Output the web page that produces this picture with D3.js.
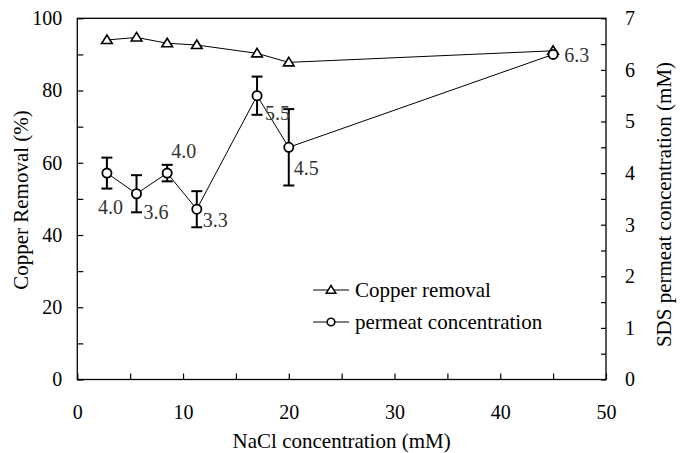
<!DOCTYPE html>
<html>
<head>
<meta charset="utf-8">
<script src="https://cdn.jsdelivr.net/npm/d3@7"></script>
<style>
  body { margin: 0; background: #fff; }
  svg { display: block; font-family: "Liberation Serif", "Times New Roman", serif; }
  .axis path { display: none; }
  .axis line { stroke: #000; stroke-width: 1.2px; }
  .axis text { font-size: 20px; fill: #000; font-family: "Liberation Serif", "Times New Roman", serif; }
</style>
</head>
<body>
<div id="chart-area"></div>
<script>
// NaCl concentration (mM)
var nacl = [2.8, 5.6, 8.5, 11.3, 17, 20, 45];
// copper removal (%)
var copperRemoval = [94.0, 94.7, 93.1, 92.6, 90.3, 87.8, 91.0];
// SDS permeate concentration (mM) and its error
var permeate = [4.0, 3.6, 4.0, 3.3, 5.5, 4.5, 6.3];
var permeateErr = [0.3, 0.36, 0.16, 0.35, 0.37, 0.74, 0];
var legendLabels = ["Copper removal", "permeat concentration"];

// label placement next to each permeate point (dx, dy)
var labelOffsets = [[-9, 41], [7, 25], [4, -15], [6, 18], [8, 24], [5, 28], [11, 8]];

var W = 687, H = 453;
var margin = { left: 77.3, right: 606, top: 18.3, bottom: 379.5 };

var svg = d3.select("#chart-area")
    .append("svg")
        .attr("width", W)
        .attr("height", H);

var x = d3.scaleLinear().domain([0, 50]).range([margin.left, margin.right]);
var yL = d3.scaleLinear().domain([0, 100]).range([margin.bottom, margin.top]);
var yR = d3.scaleLinear().domain([0, 7]).range([margin.bottom, margin.top]);

// Bottom axis
var xAxisCall = d3.axisBottom(x)
    .tickValues(d3.range(0, 51, 5))
    .tickSizeInner(-6)
    .tickSizeOuter(0)
    .tickPadding(25)
    .tickFormat(function(d){ return d % 10 === 0 ? d : ""; });
svg.append("g")
    .attr("class", "axis")
    .attr("transform", "translate(0," + margin.bottom + ")")
    .call(xAxisCall);

// Left axis
var yAxisCall = d3.axisLeft(yL)
    .tickValues(d3.range(0, 101, 10))
    .tickSizeInner(-6)
    .tickSizeOuter(0)
    .tickPadding(15)
    .tickFormat(function(d){ return d % 20 === 0 ? d : ""; });
svg.append("g")
    .attr("class", "axis")
    .attr("transform", "translate(" + margin.left + ",0)")
    .call(yAxisCall);

// Right axis
var yRAxisCall = d3.axisRight(yR)
    .tickValues(d3.range(0, 7.01, 0.5))
    .tickSizeInner(-5)
    .tickSizeOuter(0)
    .tickPadding(19)
    .tickFormat(function(d){ return d % 1 === 0 ? d : ""; });
svg.append("g")
    .attr("class", "axis")
    .attr("transform", "translate(" + margin.right + ",0)")
    .call(yRAxisCall);

// frame
svg.append("rect")
    .attr("x", margin.left)
    .attr("y", margin.top)
    .attr("width", margin.right - margin.left)
    .attr("height", margin.bottom - margin.top)
    .attr("fill", "none")
    .attr("stroke", "#000")
    .attr("stroke-width", 1.3);

// Axis titles
svg.append("text")
    .attr("x", (margin.left + margin.right) / 2)
    .attr("y", 448)
    .attr("font-size", "21px")
    .attr("text-anchor", "middle")
    .text("NaCl concentration (mM)");

svg.append("text")
    .attr("transform", "translate(28,200) rotate(-90)")
    .attr("font-size", "21px")
    .attr("text-anchor", "middle")
    .text("Copper Removal (%)");

svg.append("text")
    .attr("transform", "translate(671,204.5) rotate(-90)")
    .attr("font-size", "21px")
    .attr("text-anchor", "middle")
    .text("SDS permeat concentration (mM)");

var triangle = "M0,-5L5.3,3.5L-5.3,3.5Z";

var copperData = nacl.map(function(d, i){ return { x: d, y: copperRemoval[i] }; });
var permData = nacl.map(function(d, i){
    return { x: d, y: permeate[i], e: permeateErr[i], off: labelOffsets[i] };
});

// Copper removal line
svg.append("path")
    .datum(copperData)
    .attr("fill", "none")
    .attr("stroke", "#000")
    .attr("stroke-width", 1)
    .attr("d", d3.line()
        .x(function(d){ return x(d.x); })
        .y(function(d){ return yL(d.y); }));

// Permeate line
svg.append("path")
    .datum(permData)
    .attr("fill", "none")
    .attr("stroke", "#000")
    .attr("stroke-width", 1)
    .attr("d", d3.line()
        .x(function(d){ return x(d.x); })
        .y(function(d){ return yR(d.y); }));

// Error bars
var eb = svg.selectAll(".err")
    .data(permData.filter(function(d){ return d.e > 0; }))
    .enter().append("g")
        .attr("class", "err")
        .attr("stroke", "#000")
        .attr("stroke-width", 2);
eb.append("line")
    .attr("x1", function(d){ return x(d.x); })
    .attr("x2", function(d){ return x(d.x); })
    .attr("y1", function(d){ return yR(d.y - d.e); })
    .attr("y2", function(d){ return yR(d.y + d.e); });
eb.append("line")
    .attr("x1", function(d){ return x(d.x) - 5.5; })
    .attr("x2", function(d){ return x(d.x) + 5.5; })
    .attr("y1", function(d){ return yR(d.y - d.e); })
    .attr("y2", function(d){ return yR(d.y - d.e); });
eb.append("line")
    .attr("x1", function(d){ return x(d.x) - 5.5; })
    .attr("x2", function(d){ return x(d.x) + 5.5; })
    .attr("y1", function(d){ return yR(d.y + d.e); })
    .attr("y2", function(d){ return yR(d.y + d.e); });

// Triangle markers
svg.selectAll(".tri")
    .data(copperData)
    .enter().append("path")
        .attr("class", "tri")
        .attr("d", triangle)
        .attr("transform", function(d){ return "translate(" + x(d.x) + "," + yL(d.y) + ")"; })
        .attr("fill", "#fff")
        .attr("stroke", "#000")
        .attr("stroke-width", 1.6);

// Circle markers
svg.selectAll(".circ")
    .data(permData)
    .enter().append("circle")
        .attr("class", "circ")
        .attr("cx", function(d){ return x(d.x); })
        .attr("cy", function(d){ return yR(d.y); })
        .attr("r", 4.6)
        .attr("fill", "#fff")
        .attr("stroke", "#000")
        .attr("stroke-width", 1.8);

// Value labels
svg.selectAll(".val")
    .data(permData)
    .enter().append("text")
        .attr("class", "val")
        .attr("x", function(d){ return x(d.x) + d.off[0]; })
        .attr("y", function(d){ return yR(d.y) + d.off[1]; })
        .attr("font-size", "20px")
        .attr("fill", "#333")
        .text(function(d){ return d.y.toFixed(1); });

// Legend
var legend = svg.append("g").attr("transform", "translate(313,290)");
legendLabels.forEach(function(label, i){
    var row = legend.append("g").attr("transform", "translate(0," + (i * 32) + ")");
    row.append("line")
        .attr("x1", 0).attr("x2", 36)
        .attr("y1", 0).attr("y2", 0)
        .attr("stroke", "#000")
        .attr("stroke-width", 1);
    if (i === 0) {
        row.append("path")
            .attr("d", "M0,-4.5L4.8,3.2L-4.8,3.2Z")
            .attr("transform", "translate(18,0)")
            .attr("fill", "#fff")
            .attr("stroke", "#000")
            .attr("stroke-width", 1.5);
    } else {
        row.append("circle")
            .attr("cx", 18).attr("cy", 0).attr("r", 3.8)
            .attr("fill", "#fff")
            .attr("stroke", "#000")
            .attr("stroke-width", 1.6);
    }
    row.append("text")
        .attr("x", 42)
        .attr("y", 7)
        .attr("font-size", "21px")
        .text(label);
});
</script>
</body>
</html>
